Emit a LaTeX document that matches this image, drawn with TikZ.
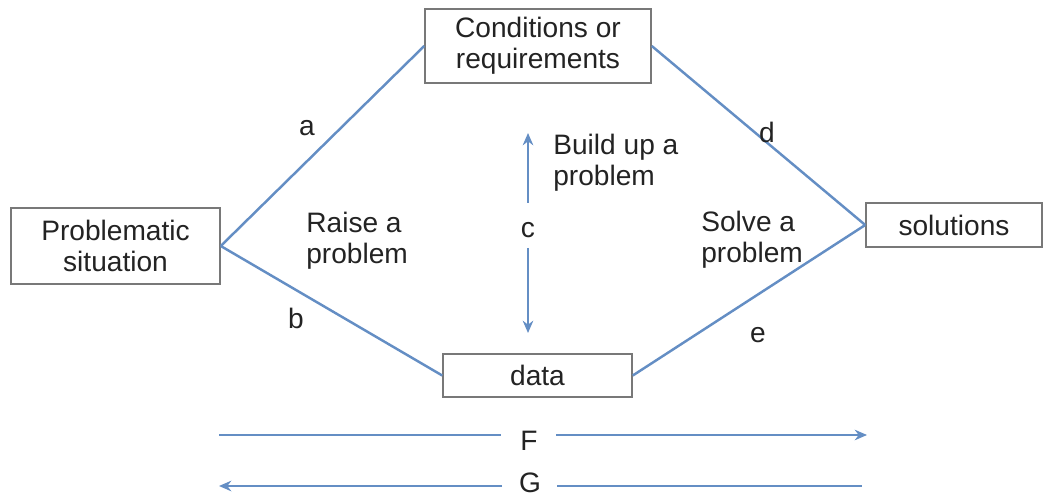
\documentclass[tikz,border=0pt]{standalone}
\usepackage{fontspec}
\setmainfont{Liberation Sans}
\usetikzlibrary{arrows.meta}
\definecolor{linkblue}{RGB}{100,142,196}
\definecolor{boxgray}{RGB}{120,120,120}
\definecolor{txt}{RGB}{35,35,35}
\begin{document}
\begin{tikzpicture}[x=0.02cm,y=-0.02cm,
  every node/.style={text=txt,font=\fontsize{16}{17.6}\selectfont},
  box/.style={draw=boxgray,line width=0.9pt,fill=white,align=center,inner sep=0pt},
  link/.style={draw=linkblue,line width=1.4pt},
  arr/.style={link,-{Stealth[length=7pt,width=6pt]}},
  lbl/.style={inner sep=0pt},
  blk/.style={inner sep=0pt,align=left,anchor=west}]
\useasboundingbox (0,0) rectangle (1050,496);
% boxes
\node[box,minimum width=4.52cm,minimum height=1.48cm] (cond) at (538,46) {Conditions or\\requirements};
\node[box,minimum width=4.18cm,minimum height=1.52cm] (prob) at (115.5,246) {Problematic\\situation};
\node[box,minimum width=3.52cm,minimum height=0.88cm] (sol) at (954,225) {solutions};
\node[box,minimum width=3.78cm,minimum height=0.86cm] (data) at (537.5,375.5) {data};
% diamond links
\draw[link] (prob.east) -- (cond.west);
\draw[link] (cond.east) -- (sol.west);
\draw[link] (prob.east) -- (data.west);
\draw[link] (data.east) -- (sol.west);
% edge labels
\node[lbl] (la) at (307,128) {a};
\node[lbl] (lb) at (296,318) {b};
\node[lbl] (ld) at (767,132) {d};
\node[lbl] (le) at (758,335) {e};
% region labels
\node[blk] (raise) at (306,241) {Raise a\\problem};
\node[blk] (build) at (553,163) {Build up a\\problem};
\node[blk] (solve) at (701,240) {Solve a\\problem};
% c arrows
\node[lbl] (c) at (528,230) {c};
\coordinate (c1) at (528,203);
\coordinate (ctop) at (528,133);
\coordinate (c2) at (528,248);
\coordinate (cbot) at (528,333);
\draw[arr] (c1) -- (ctop);
\draw[arr] (c2) -- (cbot);
% F and G
\node[lbl] (F) at (529,441) {F};
\node[lbl] (G) at (530,483) {G};
\coordinate (f1) at (219,435);
\coordinate (f2) at (501,435);
\coordinate (f3) at (556,435);
\coordinate (f4) at (867,435);
\coordinate (g1) at (219,486);
\coordinate (g2) at (502,486);
\coordinate (g3) at (557,486);
\coordinate (g4) at (862,486);
\draw[link] (f1) -- (f2);
\draw[arr] (f3) -- (f4);
\draw[arr] (g2) -- (g1);
\draw[link] (g3) -- (g4);
\end{tikzpicture}
\end{document}
